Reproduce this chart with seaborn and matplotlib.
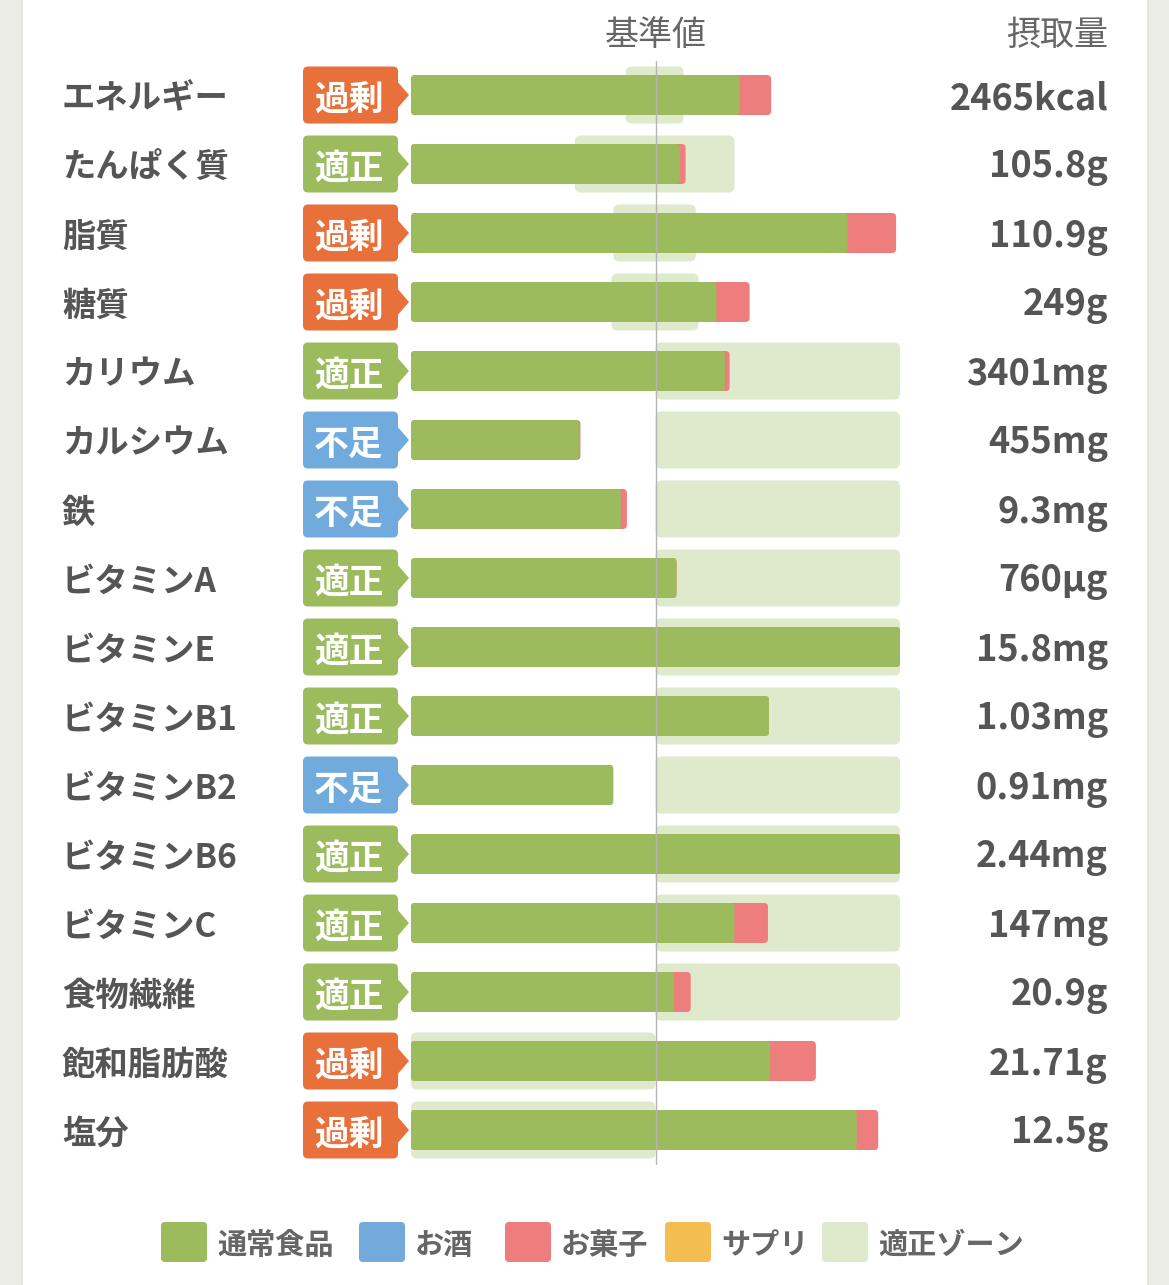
import numpy as np
import pandas as pd
import matplotlib
matplotlib.use('Agg')
import matplotlib.pyplot as plt
import seaborn as sns
from matplotlib.patches import FancyBboxPatch, Rectangle, Polygon

# ── data ─────────────────────────────────────────────────────────────────────
nutrients = ['エネルギー', 'たんぱく質', '脂質', '糖質', 'カリウム', 'カルシウム', '鉄',
             'ビタミンA', 'ビタミンE', 'ビタミンB1', 'ビタミンB2', 'ビタミンB6',
             'ビタミンC', '食物繊維', '飽和脂肪酸', '塩分']
status = ['過剰', '適正', '過剰', '過剰', '適正', '不足', '不足', '適正',
          '適正', '適正', '不足', '適正', '適正', '適正', '過剰', '過剰']
intake = ['2465kcal', '105.8g', '110.9g', '249g', '3401mg', '455mg', '9.3mg', '760μg',
          '15.8mg', '1.03mg', '0.91mg', '2.44mg', '147mg', '20.9g', '21.71g', '12.5g']
# bar lengths in % of the reference value (axis is capped at 200%)
food = [134.4, 110.0, 178.6, 124.9, 128.4, 68.7, 85.8, 108.6,
        200.0, 146.4, 82.7, 200.0, 132.3, 107.6, 146.9, 182.3]
snack = [12.9, 2.3, 19.8, 13.6, 1.9, 0.6, 2.5, 0.0,
         0.0, 0.0, 0.0, 0.0, 13.7, 6.8, 18.7, 8.8]
zone_lo = [87.8, 67.0, 82.8, 82.0, 100, 100, 100, 100,
           100, 100, 100, 100, 100, 100, 0, 0]
zone_hi = [111.5, 132.3, 116.5, 117.6, 200, 200, 200, 200,
           200, 200, 200, 200, 200, 200, 100, 100]

legend_labels = ['通常食品', 'お酒', 'お菓子', 'サプリ', '適正ゾーン']

# ── style ────────────────────────────────────────────────────────────────────
c_food = '#9cbb5d'
c_snack = '#ee7e7d'
c_zone = '#dfe9cc'
legend_colors = [c_food, '#72aadc', c_snack, '#f4bd50', c_zone]
badge_colors = {'過剰': '#e8703b', '適正': '#9cbb5d', '不足': '#71aadd'}
txt = '#555555'
bg_out = '#ededE8'

sns.set_style('white')
plt.rcParams['font.family'] = ['Noto Sans CJK JP', 'DejaVu Sans']

W, H = 1169, 1285
Y0, STEP = 95, 69          # row centre of first row / row pitch (px)
X0, X1 = 411, 900          # px of 0% and 200%
DY = 4                     # optical shift of CJK text centre

fig = plt.figure(figsize=(W / 100, H / 100), dpi=100)
fig.patch.set_facecolor(bg_out)

# overlay axes in pixel units for labels, badges, legend
ov = fig.add_axes([0, 0, 1, 1])
ov.set_xlim(0, W)
ov.set_ylim(H, 0)
ov.axis('off')
ov.add_patch(Rectangle((22, -5), 1126, H + 10, fc='white', ec='#e2e2dc', lw=1.2, zorder=0))

# main data axes
top_px = Y0 - STEP / 2
bot_px = Y0 + STEP * (len(nutrients) - 0.5)
ax = fig.add_axes([X0 / W, 1 - bot_px / H, (X1 - X0) / W, (bot_px - top_px) / H])
ax.patch.set_alpha(0)
ax.set_zorder(2)

df = pd.DataFrame({'nutrient': nutrients, 'food': food,
                   'total': np.array(food) + np.array(snack)})

# appropriate zone
ax.barh(np.arange(len(nutrients)), np.array(zone_hi) - np.array(zone_lo), left=zone_lo,
        height=57 / STEP, color=c_zone, zorder=1)
zone_bars = list(ax.containers[-1])

sns.barplot(data=df, x='total', y='nutrient', orient='h', color=c_snack, saturation=1,
            width=40 / STEP, errorbar=None, ax=ax, zorder=2)
snack_bars = list(ax.containers[-1])
sns.barplot(data=df, x='food', y='nutrient', orient='h', color=c_food, saturation=1,
            width=40 / STEP, errorbar=None, ax=ax, zorder=3)
food_bars = list(ax.containers[-1])

ux = 200 / (X1 - X0)
uy = 1 / STEP


def round_bars(bars, r_px, z):
    for b in bars:
        x, y, w, h = b.get_x(), b.get_y(), b.get_width(), b.get_height()
        fc = b.get_facecolor()
        b.remove()
        if w <= 0:
            continue
        r = min(r_px * ux, w / 2)
        ax.add_patch(FancyBboxPatch((x, y), w, h,
                                    boxstyle=f'round,pad=0,rounding_size={r}',
                                    mutation_aspect=uy / ux, fc=fc, ec='none', zorder=z))


round_bars(zone_bars, 6, 1)
round_bars(snack_bars, 4, 2)
round_bars(food_bars, 4, 3)

ax.axvline(100, color='#b5b5b5', lw=1, zorder=5)
ax.set_xlim(0, 200)
ax.set_ylim(len(nutrients) - 0.5, -0.5)
ax.axis('off')

# headers
ov.text(656, 33 + 2, '基準値', ha='center', va='center', fontsize=24.5, color='#666666')
ov.text(1108, 33 + 2, '摂取量', ha='right', va='center', fontsize=24.5, color='#666666')

# rows: name, badge, intake
for i, (name, st, val) in enumerate(zip(nutrients, status, intake)):
    yc = Y0 + STEP * i
    ov.text(62, yc + DY, name, ha='left', va='center', fontsize=24, fontweight='bold',
            color=txt)
    col = badge_colors[st]
    ov.add_patch(FancyBboxPatch((303, yc - 28.5), 95, 57,
                                boxstyle='round,pad=0,rounding_size=5', fc=col, ec='none'))
    ov.add_patch(Polygon([(396, yc - 15), (409, yc), (396, yc + 15)], closed=True,
                         fc=col, ec='none'))
    ov.text(349, yc + DY, st, ha='center', va='center', fontsize=25, fontweight='bold',
            color='white')
    ov.text(1108, yc + DY, val, ha='right', va='center', fontsize=26, fontweight='bold',
            color=txt)

# legend
leg_x = [161, 359, 505, 665, 822]
for lx, lab, col in zip(leg_x, legend_labels, legend_colors):
    ov.add_patch(FancyBboxPatch((lx, 1222), 46, 40, boxstyle='round,pad=0,rounding_size=4',
                                fc=col, ec='none'))
    ov.text(lx + 56, 1242 + 3, lab, ha='left', va='center', fontsize=21, fontweight='bold',
            color='#666666')

plt.savefig('out.png', dpi=100, facecolor=fig.get_facecolor())
